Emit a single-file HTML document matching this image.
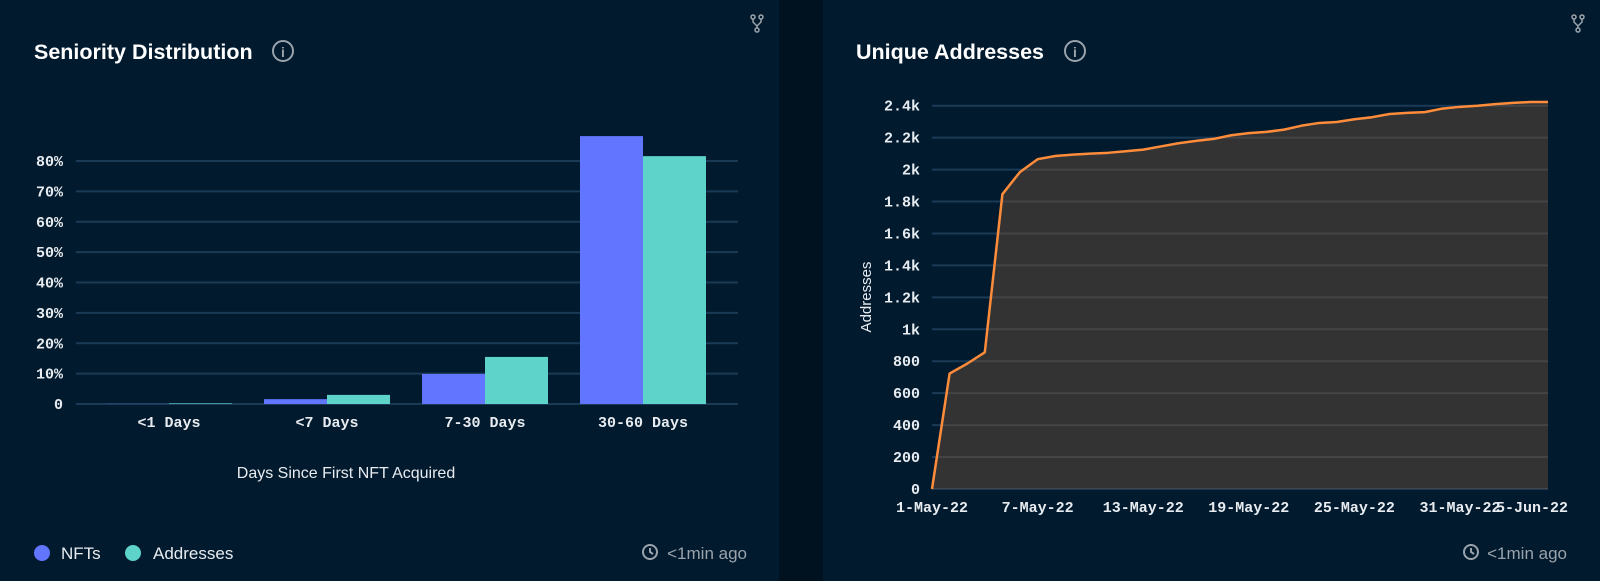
<!DOCTYPE html>
<html><head><meta charset="utf-8"><style>
html,body{margin:0;padding:0;background:#00111f;width:1600px;height:581px;overflow:hidden}
svg{display:block}
.mono{font-family:"Liberation Mono",monospace;font-weight:bold;fill:#e8ecf0}
.sans{font-family:"Liberation Sans",sans-serif}
</style></head><body>
<svg id="s" width="1600" height="581" xmlns="http://www.w3.org/2000/svg">
<rect x="0" y="0" width="779" height="581" fill="#011a2e"/>
<rect x="823" y="0" width="777" height="581" fill="#011a2e"/>
<text x="34" y="59" class="sans" font-size="21.5" font-weight="bold" fill="#fff">Seniority Distribution</text>
<g><circle cx="283" cy="51" r="10" fill="none" stroke="#9aa3ab" stroke-width="2"/><text x="283" y="57" text-anchor="middle" class="sans" font-size="14" font-weight="bold" fill="#9aa3ab">i</text></g>
<text x="856" y="59" class="sans" font-size="21.5" font-weight="bold" fill="#fff">Unique Addresses</text>
<g><circle cx="1075" cy="51" r="10" fill="none" stroke="#9aa3ab" stroke-width="2"/><text x="1075" y="57" text-anchor="middle" class="sans" font-size="14" font-weight="bold" fill="#9aa3ab">i</text></g>
<g stroke="#9aa3ab" stroke-width="1.5" fill="none"><circle cx="753" cy="17" r="2"/><circle cx="761" cy="17" r="2"/><circle cx="757" cy="30" r="2"/><path d="M753 19v3l4 4v2M761 19v3l-4 4"/></g>
<g stroke="#9aa3ab" stroke-width="1.5" fill="none"><circle cx="1574" cy="17" r="2"/><circle cx="1582" cy="17" r="2"/><circle cx="1578" cy="30" r="2"/><path d="M1574 19v3l4 4v2M1582 19v3l-4 4"/></g>
<g id="bar"></g>
<g id="line"></g>
<text x="346" y="478" text-anchor="middle" class="sans" font-size="16" fill="#e8ecf0">Days Since First NFT Acquired</text>
<g><ellipse cx="42" cy="553" rx="8" ry="8" fill="#6275ff"/><text x="61" y="559" class="sans" font-size="17" fill="#e8ecf0">NFTs</text></g>
<g><ellipse cx="133" cy="553" rx="8" ry="8" fill="#5dd3c9"/><text x="153" y="559" class="sans" font-size="17" fill="#e8ecf0">Addresses</text></g>
<g><circle cx="650" cy="552" r="7" fill="none" stroke="#9aa3ab" stroke-width="2"/><path d="M650 548v4l3 2" stroke="#9aa3ab" stroke-width="2" fill="none"/><text x="747" y="559" text-anchor="end" class="sans" font-size="17" fill="#9aa3ab">&lt;1min ago</text></g>
<g><circle cx="1471" cy="552" r="7" fill="none" stroke="#9aa3ab" stroke-width="2"/><path d="M1471 548v4l3 2" stroke="#9aa3ab" stroke-width="2" fill="none"/><text x="1567" y="559" text-anchor="end" class="sans" font-size="17" fill="#9aa3ab">&lt;1min ago</text></g>
<text transform="translate(871,297) rotate(-90)" text-anchor="middle" class="sans" font-size="15" fill="#e8ecf0">Addresses</text>
</svg>
<script>
const categories = ["<1 Days","<7 Days","7-30 Days","30-60 Days"];
const nftValues = [0.05,1.6,9.9,88.2];
const addressValues = [0.2,3.0,15.5,81.6];
const barTicks = [0,10,20,30,40,50,60,70,80];
const barTickLabels = ["0","10%","20%","30%","40%","50%","60%","70%","80%"];
const dates = ["1-May-22","2-May-22","3-May-22","4-May-22","5-May-22","6-May-22","7-May-22","8-May-22","9-May-22","10-May-22","11-May-22","12-May-22","13-May-22","14-May-22","15-May-22","16-May-22","17-May-22","18-May-22","19-May-22","20-May-22","21-May-22","22-May-22","23-May-22","24-May-22","25-May-22","26-May-22","27-May-22","28-May-22","29-May-22","30-May-22","31-May-22","1-Jun-22","2-Jun-22","3-Jun-22","4-Jun-22","5-Jun-22"];
const addresses = [0,723,785,856,1846,1985,2065,2085,2094,2100,2105,2115,2125,2145,2165,2180,2192,2215,2228,2236,2250,2275,2292,2298,2315,2328,2348,2355,2360,2382,2393,2400,2410,2418,2423,2423];
const lineTicks = [0,200,400,600,800,1000,1200,1400,1600,1800,2000,2200,2400];
const lineTickLabels = ["0","200","400","600","800","1k","1.2k","1.4k","1.6k","1.8k","2k","2.2k","2.4k"];
const xTickLabels = ["1-May-22","7-May-22","13-May-22","19-May-22","25-May-22","31-May-22","5-Jun-22"];

const NS="http://www.w3.org/2000/svg";
function mk(tag,attrs,parent){const e=document.createElementNS(NS,tag);for(const k in attrs)e.setAttribute(k,attrs[k]);parent.appendChild(e);return e;}

// bar chart
const bg=document.getElementById('bar');
const by=v=>404-v*243/80;
const bx=i=>169+158*i;
const bw=63;
barTicks.forEach((t,i)=>{
  const l=mk('line',{x1:76,x2:738,y1:by(t),y2:by(t),stroke:'#1b3a55','stroke-width':2},bg);
  
  
  const tx=mk('text',{x:63,y:by(t)+5,'text-anchor':'end','class':'mono','font-size':15},bg);
  tx.textContent=barTickLabels[i];
  
  
});
categories.forEach((c,i)=>{
  const r1=mk('rect',{x:bx(i)-bw,y:by(nftValues[i]),width:bw,height:by(0)-by(nftValues[i]),fill:'#6275ff'},bg);
  
  
  const r2=mk('rect',{x:bx(i),y:by(addressValues[i]),width:bw,height:by(0)-by(addressValues[i]),fill:'#5dd3c9'},bg);
  
  
  const t=mk('text',{x:bx(i),y:427,'text-anchor':'middle','class':'mono','font-size':15},bg);
  t.textContent=c;
  
  
});

// line chart
const lg=document.getElementById('line');
const x0=932,x1=1548;
const lx=i=>x0+(x1-x0)*i/(dates.length-1);
const ly=v=>489-v*(489-105.7)/2400;
let area='M'+lx(0)+' '+ly(0);
addresses.forEach((v,i)=>{area+=' L'+lx(i)+' '+ly(v);});
area+=' L'+lx(addresses.length-1)+' '+ly(0)+' Z';
lineTicks.forEach((t,i)=>{
  const l=mk('line',{x1:x0,x2:x1,y1:ly(t),y2:ly(t),stroke:'#1b3a55','stroke-width':2},lg);
  
  
});
const a=mk('path',{d:area,fill:'#333333'},lg);


const cp=mk('clipPath',{id:'ac'},lg);
mk('path',{d:area},cp);
lineTicks.forEach((t,i)=>{
  const l=mk('line',{x1:x0,x2:x1,y1:ly(t),y2:ly(t),stroke:'#454548','stroke-width':2,'clip-path':'url(#ac)'},lg);
  
  
  const tx=mk('text',{x:920,y:ly(t)+5,'text-anchor':'end','class':'mono','font-size':15},lg);
  tx.textContent=lineTickLabels[i];
  
  
});
let d='';
addresses.forEach((v,i)=>{d+=(i?' L':'M')+lx(i)+' '+ly(v);});
const p=mk('path',{d:d,fill:'none',stroke:'#ff8c3a','stroke-width':2.5,'stroke-linejoin':'round'},lg);


xTickLabels.forEach((lab)=>{
  const i=dates.indexOf(lab);
  const last=i===dates.length-1;
  const t=mk('text',{x:last?1568:lx(i),y:512,'text-anchor':last?'end':'middle','class':'mono','font-size':15},lg);
  t.textContent=lab;
  
  
});
</script>
</body></html>
